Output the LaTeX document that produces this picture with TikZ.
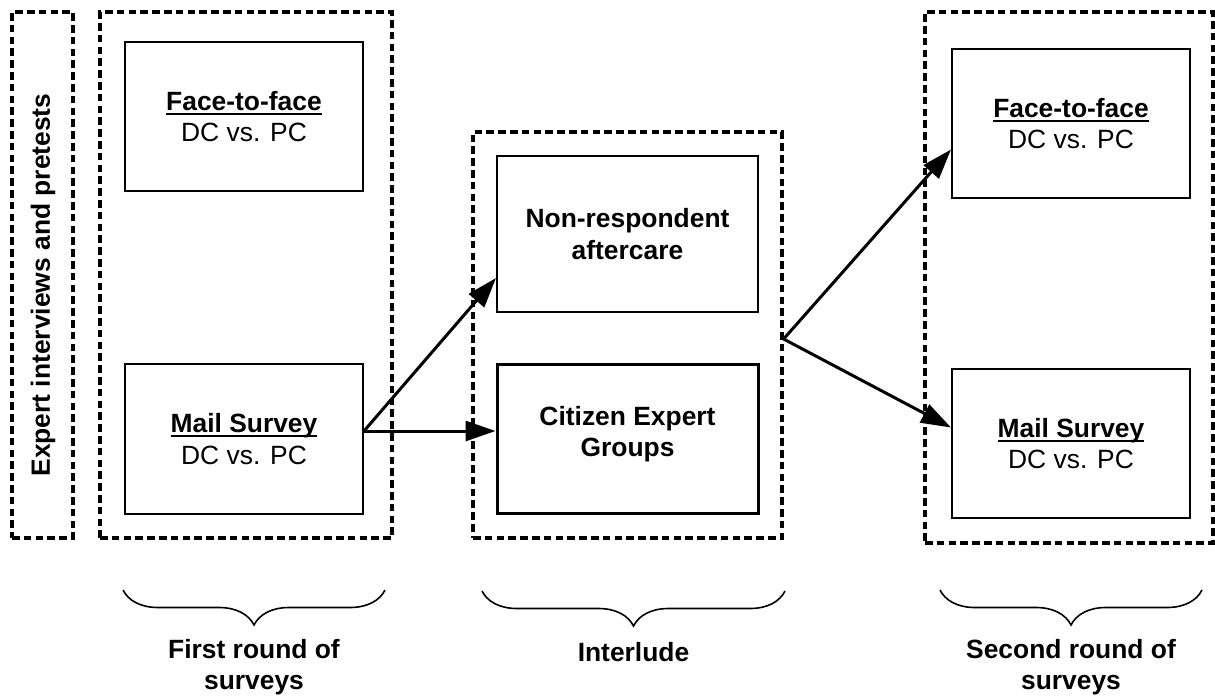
\documentclass[tikz,border=0pt]{standalone}
\usepackage{fontspec}
\setmainfont{Liberation Sans}
\usetikzlibrary{arrows.meta,decorations.pathreplacing,calc}

% underline at a fixed depth below the baseline
\newcommand\headline[1]{\setbox0\hbox{\bfseries #1}\rlap{\rule[-2.2pt]{\wd0}{1pt}}\box0}

\tikzset{
  frame/.style={draw, line width=1.6pt, dash pattern=on 3.8pt off 2.1pt, inner sep=0pt},
  stepbox/.style={draw, line width=1pt, inner sep=0pt, align=center,
    minimum width=119pt, minimum height=74.5pt,
    font=\fontsize{13.2pt}{15.6pt}\selectfont},
  widebox/.style={stepbox, minimum width=130.5pt, font=\fontsize{13.2pt}{15.6pt}\selectfont\bfseries},
  flow/.style={line width=1.5pt, -{Triangle[length=15pt,width=10pt]}},
  bracket/.style={line width=0.8pt, decorate,
    decoration={brace, mirror, amplitude=17.5pt}},
  caption/.style={align=center, font=\fontsize{13.2pt}{15.6pt}\selectfont\bfseries}
}

\begin{document}
\begin{tikzpicture}[x=0.5pt, y=-0.5pt]
\useasboundingbox (0,0) rectangle (1215,697);

% dashed phase frames
\node[frame, minimum width=30.5pt, minimum height=263pt] (expert) at (42.5,275) {};
\node[frame, minimum width=146pt, minimum height=263pt] (first) at (246,275) {};
\node[frame, minimum width=154.5pt, minimum height=203pt] (inter) at (627.5,335) {};
\node[frame, minimum width=144pt, minimum height=265.5pt] (second) at (1069,277.5) {};

\node[rotate=90, font=\fontsize{13.2pt}{15.6pt}\selectfont\bfseries] (expertlbl) at (43,285)
  {Expert interviews and pretests};

% first round of surveys
\node[stepbox] (ftf1) at (244,116.5) {\headline{Face-to-face}\\DC vs. PC};
\node[stepbox, minimum height=75pt] (mail1) at (244,439) {\headline{Mail Survey}\\DC vs. PC};

% interlude
\node[widebox, minimum height=78pt] (nonresp) at (627.5,234) {Non-respondent\\aftercare};
\node[widebox, line width=1.5pt] (ceg) at (627.5,439) {Citizen Expert\\Groups\\[-8pt]\mbox{}};

% second round of surveys
\node[stepbox] (ftf2) at (1071,123.5) {\headline{Face-to-face}\\DC vs. PC};
\node[stepbox] (mail2) at (1071,443.5) {\headline{Mail Survey}\\DC vs. PC};

% connectors
\coordinate (m1out) at ([yshift=4pt]mail1.east);
\draw[flow] (m1out) -- ([yshift=17.5pt]nonresp.south west);
\draw[flow] (m1out) -- (m1out -| ceg.west);
\coordinate (iout) at ([yshift=-2pt]inter.east);
\draw[flow] (iout) -- ([yshift=-13pt]ftf2.west);
\draw[flow] (iout) -- ([yshift=8pt]mail2.west);

% phase braces and captions
\coordinate (b1l) at (123,590); \coordinate (b1r) at (385,590);
\coordinate (b2l) at (482,591); \coordinate (b2r) at (785,591);
\coordinate (b3l) at (940,590); \coordinate (b3r) at (1202,590);
\draw[bracket] (b1l) -- (b1r);
\draw[bracket] (b2l) -- (b2r);
\draw[bracket] (b3l) -- (b3r);
\node[caption] (cap1) at (254,667.5) {First round of\\surveys};
\node[caption] (cap2) at (633.5,652) {Interlude};
\node[caption] (cap3) at (1071,667.5) {Second round of\\surveys};
\end{tikzpicture}
\end{document}
